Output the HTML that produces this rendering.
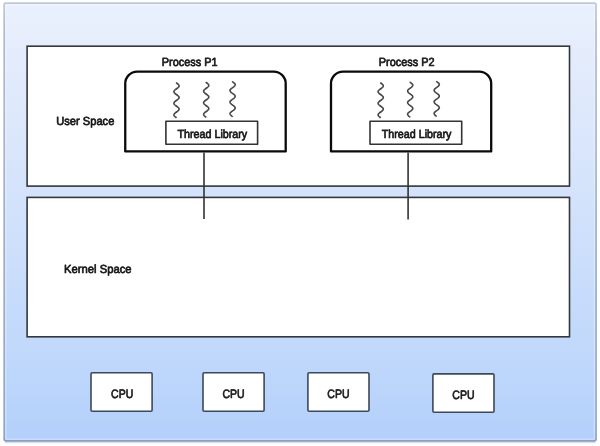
<!DOCTYPE html>
<html lang="en">
<head>
<meta charset="utf-8">
<title>User-level threads</title>
<style>
html,body{margin:0;padding:0;}
body{width:600px;height:446px;background:#fff;position:relative;overflow:hidden;
 font-family:"Liberation Sans",sans-serif;color:#1a1a1a;}
svg{position:absolute;left:0;top:0;}
</style>
</head>
<body>

<svg width="600" height="446" viewBox="0 0 600 446" fill="none">
 <defs>
  <linearGradient id="pf" x1="0" y1="0" x2="0" y2="1">
   <stop offset="0" stop-color="#eaf1fd"/><stop offset="0.12" stop-color="#e4ecfc"/>
   <stop offset="0.43" stop-color="#d4e3fb"/><stop offset="0.80" stop-color="#c0d8fb"/>
   <stop offset="1" stop-color="#b3d0fb"/>
  </linearGradient>
  <linearGradient id="pb" x1="0" y1="0" x2="0" y2="1">
   <stop offset="0" stop-color="#bcc8d9"/><stop offset="0.05" stop-color="#aebbce"/>
   <stop offset="0.5" stop-color="#9badc8"/><stop offset="0.96" stop-color="#90a4c6"/>
   <stop offset="1" stop-color="#8a9ec1"/>
  </linearGradient>
  <linearGradient id="ps" x1="0" y1="0" x2="0" y2="1">
   <stop offset="0" stop-color="#6d7fa0" stop-opacity=".45"/><stop offset="1" stop-color="#6d7fa0" stop-opacity="0"/>
  </linearGradient>
 </defs>
 <rect x="5" y="441.6" width="590.5" height="2.2" fill="url(#ps)"/>
 <rect x="4.2" y="3.2" width="591.8" height="437.6" rx="1.3" fill="url(#pf)" stroke="url(#pb)" stroke-width="1.7"/>
 <rect x="5.7" y="4.7" width="588.8" height="434.6" rx="1" stroke="#fff" stroke-opacity=".3" stroke-width="1.6"/>
 <g stroke="#33363d" stroke-width="1.6" fill="#fff">
  <rect x="27.1" y="46.2" width="542.4" height="139.9"/>
  <rect x="27.1" y="197.4" width="542.4" height="139.4"/>
 </g>
 <g stroke="#0a0a0a" stroke-width="2.3" stroke-linejoin="round">
  <path d="M125.25,151.4 V83.6 A12,12 0 0 1 137.25,71.6 H273.7 A12,12 0 0 1 285.7,83.6 V151.4 Z" fill="#fff"/>
  <path d="M331,151.4 V83.6 A12,12 0 0 1 343,71.6 H479.2 A12,12 0 0 1 491.2,83.6 V151.4 Z" fill="#fff"/>
 </g>
 <g stroke="#333" stroke-width="1.6" stroke-linejoin="round">
  <rect x="165.9" y="121.2" width="91.7" height="23.1" fill="#fff"/>
  <rect x="370" y="121.2" width="91.7" height="23.1" fill="#fff"/>
  <path d="M204,152.4 V219"/>
  <path d="M408.1,152.4 V219.6"/>
 </g>
 <g stroke="#3d485b" stroke-width="1.6" fill="#fff">
  <rect x="91" y="372.8" width="61.1" height="38.5" rx="1.2"/>
  <rect x="203" y="372.8" width="61.1" height="38.5" rx="1.2"/>
  <rect x="307.9" y="372.8" width="61.1" height="38.5" rx="1.2"/>
  <rect x="432.9" y="373.85" width="61.1" height="38.45" rx="1.2"/>
 </g>
 <g stroke="#484848" stroke-width="1.6" stroke-linecap="round" stroke-linejoin="round">
  <path d="M176.50,83.00 L177.20,83.50 L177.84,84.00 L178.39,84.50 L178.80,85.00 L179.04,85.50 L179.10,86.00 L178.96,86.50 L178.65,87.00 L178.18,87.50 L177.59,88.00 L176.92,88.50 L176.22,89.00 L175.54,89.50 L174.93,90.00 L174.43,90.50 L174.08,91.00 L173.92,91.50 L173.93,92.00 L174.14,92.50 L174.52,93.00 L175.04,93.50 L175.67,94.00 L176.36,94.50 L177.06,95.00 L177.72,95.50 L178.29,96.00 L178.73,96.50 L179.01,97.00 L179.10,97.50 L179.01,98.00 L178.73,98.50 L178.29,99.00 L177.72,99.50 L177.06,100.00 L176.36,100.50 L175.67,101.00 L175.04,101.50 L174.52,102.00 L174.14,102.50 L173.93,103.00 L173.92,103.50 L174.08,104.00 L174.43,104.50 L174.93,105.00 L175.54,105.50 L176.22,106.00 L176.92,106.50 L177.59,107.00 L178.18,107.50 L178.65,108.00 L178.96,108.50 L179.10,109.00 L179.04,109.50 L178.80,110.00 L178.39,110.50 L177.84,111.00 L177.20,111.50 L176.50,112.00 L175.80,112.50 L175.16,113.00 L174.61,113.50 L174.20,114.00 L173.96,114.50 L173.90,115.00 L174.04,115.50 L174.35,116.00 L174.82,116.50 L175.41,117.00 L176.08,117.50"/>
  <path d="M206.20,82.50 L206.90,83.00 L207.54,83.50 L208.09,84.00 L208.50,84.50 L208.74,85.00 L208.80,85.50 L208.66,86.00 L208.35,86.50 L207.88,87.00 L207.29,87.50 L206.62,88.00 L205.92,88.50 L205.24,89.00 L204.63,89.50 L204.13,90.00 L203.78,90.50 L203.62,91.00 L203.63,91.50 L203.84,92.00 L204.22,92.50 L204.74,93.00 L205.37,93.50 L206.06,94.00 L206.76,94.50 L207.42,95.00 L207.99,95.50 L208.43,96.00 L208.71,96.50 L208.80,97.00 L208.71,97.50 L208.43,98.00 L207.99,98.50 L207.42,99.00 L206.76,99.50 L206.06,100.00 L205.37,100.50 L204.74,101.00 L204.22,101.50 L203.84,102.00 L203.63,102.50 L203.62,103.00 L203.78,103.50 L204.13,104.00 L204.63,104.50 L205.24,105.00 L205.92,105.50 L206.62,106.00 L207.29,106.50 L207.88,107.00 L208.35,107.50 L208.66,108.00 L208.80,108.50 L208.74,109.00 L208.50,109.50 L208.09,110.00 L207.54,110.50 L206.90,111.00 L206.20,111.50 L205.50,112.00 L204.86,112.50 L204.31,113.00 L203.90,113.50 L203.66,114.00 L203.60,114.50 L203.74,115.00 L204.05,115.50 L204.52,116.00 L205.11,116.50 L205.78,117.00"/>
  <path d="M232.60,81.80 L233.30,82.30 L233.94,82.80 L234.49,83.30 L234.90,83.80 L235.14,84.30 L235.20,84.80 L235.06,85.30 L234.75,85.80 L234.28,86.30 L233.69,86.80 L233.02,87.30 L232.32,87.80 L231.64,88.30 L231.03,88.80 L230.53,89.30 L230.18,89.80 L230.02,90.30 L230.03,90.80 L230.24,91.30 L230.62,91.80 L231.14,92.30 L231.77,92.80 L232.46,93.30 L233.16,93.80 L233.82,94.30 L234.39,94.80 L234.83,95.30 L235.11,95.80 L235.20,96.30 L235.11,96.80 L234.83,97.30 L234.39,97.80 L233.82,98.30 L233.16,98.80 L232.46,99.30 L231.77,99.80 L231.14,100.30 L230.62,100.80 L230.24,101.30 L230.03,101.80 L230.02,102.30 L230.18,102.80 L230.53,103.30 L231.03,103.80 L231.64,104.30 L232.32,104.80 L233.02,105.30 L233.69,105.80 L234.28,106.30 L234.75,106.80 L235.06,107.30 L235.20,107.80 L235.14,108.30 L234.90,108.80 L234.49,109.30 L233.94,109.80 L233.30,110.30 L232.60,110.80 L231.90,111.30 L231.26,111.80 L230.71,112.30 L230.30,112.80 L230.06,113.30 L230.00,113.80 L230.14,114.30 L230.45,114.80 L230.92,115.30 L231.51,115.80 L232.18,116.30"/>
  <path d="M380.70,83.00 L381.40,83.50 L382.04,84.00 L382.59,84.50 L383.00,85.00 L383.24,85.50 L383.30,86.00 L383.16,86.50 L382.85,87.00 L382.38,87.50 L381.79,88.00 L381.12,88.50 L380.42,89.00 L379.74,89.50 L379.13,90.00 L378.63,90.50 L378.28,91.00 L378.12,91.50 L378.13,92.00 L378.34,92.50 L378.72,93.00 L379.24,93.50 L379.87,94.00 L380.56,94.50 L381.26,95.00 L381.92,95.50 L382.49,96.00 L382.93,96.50 L383.21,97.00 L383.30,97.50 L383.21,98.00 L382.93,98.50 L382.49,99.00 L381.92,99.50 L381.26,100.00 L380.56,100.50 L379.87,101.00 L379.24,101.50 L378.72,102.00 L378.34,102.50 L378.13,103.00 L378.12,103.50 L378.28,104.00 L378.63,104.50 L379.13,105.00 L379.74,105.50 L380.42,106.00 L381.12,106.50 L381.79,107.00 L382.38,107.50 L382.85,108.00 L383.16,108.50 L383.30,109.00 L383.24,109.50 L383.00,110.00 L382.59,110.50 L382.04,111.00 L381.40,111.50 L380.70,112.00 L380.00,112.50 L379.36,113.00 L378.81,113.50 L378.40,114.00 L378.16,114.50 L378.10,115.00 L378.24,115.50 L378.55,116.00 L379.02,116.50 L379.61,117.00 L380.28,117.50"/>
  <path d="M410.20,82.30 L410.90,82.80 L411.54,83.30 L412.09,83.80 L412.50,84.30 L412.74,84.80 L412.80,85.30 L412.66,85.80 L412.35,86.30 L411.88,86.80 L411.29,87.30 L410.62,87.80 L409.92,88.30 L409.24,88.80 L408.63,89.30 L408.13,89.80 L407.78,90.30 L407.62,90.80 L407.63,91.30 L407.84,91.80 L408.22,92.30 L408.74,92.80 L409.37,93.30 L410.06,93.80 L410.76,94.30 L411.42,94.80 L411.99,95.30 L412.43,95.80 L412.71,96.30 L412.80,96.80 L412.71,97.30 L412.43,97.80 L411.99,98.30 L411.42,98.80 L410.76,99.30 L410.06,99.80 L409.37,100.30 L408.74,100.80 L408.22,101.30 L407.84,101.80 L407.63,102.30 L407.62,102.80 L407.78,103.30 L408.13,103.80 L408.63,104.30 L409.24,104.80 L409.92,105.30 L410.62,105.80 L411.29,106.30 L411.88,106.80 L412.35,107.30 L412.66,107.80 L412.80,108.30 L412.74,108.80 L412.50,109.30 L412.09,109.80 L411.54,110.30 L410.90,110.80 L410.20,111.30 L409.50,111.80 L408.86,112.30 L408.31,112.80 L407.90,113.30 L407.66,113.80 L407.60,114.30 L407.74,114.80 L408.05,115.30 L408.52,115.80 L409.11,116.30 L409.78,116.80"/>
  <path d="M436.70,81.60 L437.40,82.10 L438.04,82.60 L438.59,83.10 L439.00,83.60 L439.24,84.10 L439.30,84.60 L439.16,85.10 L438.85,85.60 L438.38,86.10 L437.79,86.60 L437.12,87.10 L436.42,87.60 L435.74,88.10 L435.13,88.60 L434.63,89.10 L434.28,89.60 L434.12,90.10 L434.13,90.60 L434.34,91.10 L434.72,91.60 L435.24,92.10 L435.87,92.60 L436.56,93.10 L437.26,93.60 L437.92,94.10 L438.49,94.60 L438.93,95.10 L439.21,95.60 L439.30,96.10 L439.21,96.60 L438.93,97.10 L438.49,97.60 L437.92,98.10 L437.26,98.60 L436.56,99.10 L435.87,99.60 L435.24,100.10 L434.72,100.60 L434.34,101.10 L434.13,101.60 L434.12,102.10 L434.28,102.60 L434.63,103.10 L435.13,103.60 L435.74,104.10 L436.42,104.60 L437.12,105.10 L437.79,105.60 L438.38,106.10 L438.85,106.60 L439.16,107.10 L439.30,107.60 L439.24,108.10 L439.00,108.60 L438.59,109.10 L438.04,109.60 L437.40,110.10 L436.70,110.60 L436.00,111.10 L435.36,111.60 L434.81,112.10 L434.40,112.60 L434.16,113.10 L434.10,113.60 L434.24,114.10 L434.55,114.60 L435.02,115.10 L435.61,115.60 L436.28,116.10"/>
 </g>
</svg>

<svg width="600" height="446" viewBox="0 0 600 446" font-family="Liberation Sans, sans-serif" fill="#161616" stroke="#161616" stroke-width="0.7" stroke-linejoin="round" text-rendering="geometricPrecision" style="will-change:transform">
<text transform="translate(161.71,65.50) scale(0.9260,1)" font-size="11.8">Process P1</text>
<text transform="translate(378.71,65.50) scale(0.9260,1)" font-size="11.8">Process P2</text>
<text transform="translate(177.50,138.10) scale(0.9090,1)" font-size="11.8">Thread Library</text>
<text transform="translate(381.72,138.10) scale(0.9090,1)" font-size="11.8">Thread Library</text>
<text transform="translate(56.24,125.15) scale(0.9427,1)" font-size="11.8">User Space</text>
<text transform="translate(64.04,272.60) scale(0.9537,1)" font-size="11.8">Kernel Space</text>
<text transform="translate(111.09,398.30) scale(0.8600,1)" font-size="12.2">CPU</text>
<text transform="translate(222.40,398.30) scale(0.8600,1)" font-size="12.2">CPU</text>
<text transform="translate(327.37,398.30) scale(0.8600,1)" font-size="12.2">CPU</text>
<text transform="translate(452.37,399.20) scale(0.8600,1)" font-size="12.2">CPU</text>
</svg>
</body>
</html>
